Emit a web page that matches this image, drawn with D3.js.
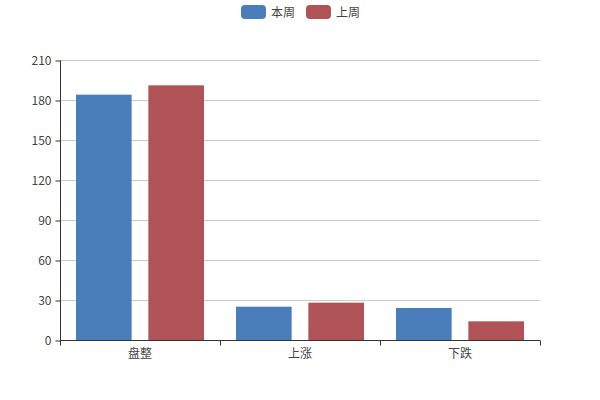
<!DOCTYPE html>
<html>
<head>
<meta charset="utf-8">
<script src="https://cdn.jsdelivr.net/npm/d3@7"></script>
<style>
  body { margin: 0; background: #fff; }
  text { font-family: "Microsoft YaHei", "Noto Sans CJK SC", sans-serif; }
</style>
</head>
<body>
<svg width="600" height="400"></svg>
<script>
var categories = ["盘整", "上涨", "下跌"];
var seriesNames = ["本周", "上周"];
var thisWeek = [184, 25, 24];
var lastWeek = [191, 28, 14];
var yTicks = [0, 30, 60, 90, 120, 150, 180, 210];
var colors = ["#4a7ebb", "#af5356"];

var svg = d3.select("svg");
// note: "top" is taken by window.top, so use plot* names
var plotLeft = 60, plotRight = 540, plotTop = 60, plotBottom = 340;

var x = d3.scaleBand().domain(categories).range([plotLeft, plotRight]).paddingInner(0).paddingOuter(0);
var y = d3.scaleLinear().domain([0, 210]).range([plotBottom, plotTop]);

// grid lines
svg.append("g").selectAll("line").data(yTicks.slice(1)).enter().append("line")
  .attr("x1", plotLeft).attr("x2", plotRight)
  .attr("y1", function (d) { return y(d) + 0.5; })
  .attr("y2", function (d) { return y(d) + 0.5; })
  .attr("stroke", "#ccc");

// bars: 20% category gap, 30% bar gap
var bw = x.bandwidth() * 0.8 / 2.3;
var gap = bw * 0.3;
var data = [thisWeek, lastWeek];
data.forEach(function (vals, s) {
  svg.append("g").selectAll("rect").data(vals).enter().append("rect")
    .attr("x", function (d, i) { return x(categories[i]) + x.bandwidth() * 0.1 + s * (bw + gap); })
    .attr("y", function (d) { return y(d); })
    .attr("width", bw)
    .attr("height", function (d) { return plotBottom - y(d); })
    .attr("fill", colors[s]);
});

// y axis
var yAxis = d3.axisLeft(y).tickValues(yTicks).tickSize(5).tickPadding(4);
var gy = svg.append("g").attr("transform", "translate(" + (plotLeft + 0.5) + ",0.5)").call(yAxis);
gy.select(".domain").attr("stroke", "#333").attr("d", "M0," + plotTop + "V" + plotBottom);
gy.selectAll(".tick line").attr("stroke", "#333");
gy.selectAll("text").attr("fill", "#444").attr("font-size", 12);
gy.attr("font-family", null);

// x axis
var xAxis = d3.axisBottom(x).tickSize(0).tickPadding(9);
var gx = svg.append("g").attr("transform", "translate(0," + (plotBottom + 0.5) + ")").call(xAxis);
gx.select(".domain").attr("stroke", "#333").attr("d", "M" + plotLeft + ",0H" + plotRight);
gx.selectAll("text").attr("fill", "#444").attr("font-size", 12);
gx.attr("font-family", null);
var bounds = [plotLeft].concat(categories.map(function (c) { return x(c) + x.bandwidth(); }));
gx.selectAll(".bound").data(bounds).enter().append("line")
  .attr("x1", function (d) { return Math.round(d) + 0.5; })
  .attr("x2", function (d) { return Math.round(d) + 0.5; })
  .attr("y1", 0).attr("y2", 5).attr("stroke", "#333");

// legend
var legend = svg.append("g");
var lx = [241, 306];
seriesNames.forEach(function (n, i) {
  legend.append("rect").attr("x", lx[i]).attr("y", 5).attr("width", 25).attr("height", 14)
    .attr("rx", 4).attr("fill", colors[i]);
  legend.append("text").attr("x", lx[i] + 30).attr("y", 16.5)
    .attr("font-size", 12).attr("fill", "#444").text(n);
});
</script>
</body>
</html>
